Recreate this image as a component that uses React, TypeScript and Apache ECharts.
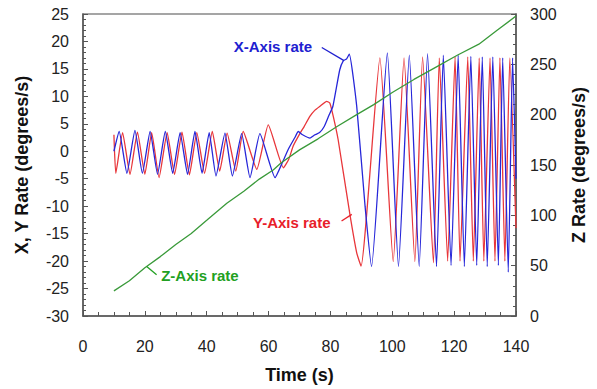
import React, { useEffect, useRef } from "react";
import * as echarts from "echarts";

// Time axis (s)
const timeMin = 0;
const timeMax = 140;
const timeStep = 20;
// Left axis (degrees/s)
const xyMin = -30;
const xyMax = 25;
const xyStep = 5;
// Right axis (degrees/s)
const zMin = 0;
const zMax = 300;
const zStep = 50;

// X-axis rate: [time, value] read at peaks, troughs and bends
const xAxisRate: [number, number][] = [
  [10, 0], [11.7, 3.6], [14.2, -4], [16.8, 3.8], [19.2, -4], [21.7, 3.6], [24.1, -4.2],
  [26.6, 3.6], [29, -4], [31.4, 3.4], [33.8, -4.2], [36.2, 3.6], [38.5, -4], [40.8, 3.4],
  [43, -4.5], [45.9, 3.3], [48.3, -4.5], [51.3, 3.2], [54, -4.8], [57.2, 3.2], [62.1, -4.8],
  [64.5, -2], [66.5, 0.5], [68.5, 2.5], [69.6, 3.6], [71, 3], [73.4, 2.4], [75, 3],
  [76.5, 3.4], [78, 4.5], [79.5, 6.5], [80.8, 8.2], [83, 14.8], [84.2, 16.5], [85.2, 16.8],
  [86.1, 17.7], [88.5, 8.2], [91.2, -10], [93.3, -21], [98.4, 17.9], [102, -21],
  [105.5, 17.5], [108.7, -21], [111.4, 17.8], [114.3, -21], [116.5, 17.5], [119, -20.8],
  [121.3, 17.5], [123.3, -21], [125.4, 17.3], [127.3, -20.8], [129.1, 17.2], [130.7, -21],
  [132.5, 17.2], [134.3, -20.8], [135.7, 17], [137.5, -22], [138.9, 17], [140, -5],
];

// Y-axis rate
const yAxisRate: [number, number][] = [
  [10, 3], [10.6, -4], [12.8, 3.4], [15.2, -4.2], [17.6, 3.5], [20, -4.2], [22.2, 3.4],
  [24.6, -4.8], [27.2, 3.4], [29.6, -4.2], [32, 3.5], [34.4, -4.3], [36.8, 3.4], [39.3, -4],
  [41.8, 3.6], [44.2, -3.6], [46.6, 3.3], [49.4, -3.6], [51.8, 3.6], [56.2, -3.3],
  [59.9, 4.8], [64.8, -3], [66.5, -1.5], [68, 1], [70.2, 3.3], [71.5, 4.5], [73.4, 6.4],
  [75, 7.5], [76.6, 8.2], [78.8, 9.1], [79.8, 8.8], [80.9, 6.4], [82.5, 2.1], [86.3, -11.5],
  [88.5, -18.5], [89.9, -20.9], [96, 17], [100.3, -20.1], [103.8, 17], [107.3, -20.1],
  [109.8, 17.2], [113.3, -20.3], [115.2, 17], [117.9, -20], [120.3, 17.2], [121.9, -20],
  [124.4, 17.2], [126.2, -20], [128.1, 17], [129.6, -20], [131.6, 17], [133.2, -20],
  [134.8, 17], [136.4, -20], [138, 17], [140, -14],
];

// Z-axis rate (right axis)
const zAxisRate: [number, number][] = [
  [10, 25], [15, 35], [20, 48], [25, 59], [30, 71], [35, 82], [40, 95], [46.5, 112],
  [52, 124], [57, 136], [61.5, 145], [64, 152], [70, 165], [76, 176], [82, 188],
  [88.5, 200], [94, 210], [100, 222], [107, 235], [114, 247], [121, 259], [128, 270],
  [134, 284], [140, 298],
];

// Annotations in data units of the left axis: label centre, pointer start, pointer end
const annotationLabels = ["X-Axis rate", "Y-Axis rate", "Z-Axis rate"];
const annotationCentres: [number, number][] = [[61.4, 19.1], [67.5, -13], [37.8, -22.6]];
const annotationPointerFrom: [number, number][] = [[77.2, 18.9], [83.6, -12.7], [23.8, -22.5]];
const annotationPointerTo: [number, number][] = [[84.4, 16.5], [86.9, -11.5], [20.6, -21]];

const BLUE = "#2626d9";
const RED = "#e8363a";
const GREEN = "#3a9a3a";
const annotationColours = ["#2020d0", "#e8202a", "#22a022"];
const FONT = "'Liberation Sans', Arial, sans-serif";
const AXIS_COLOR = "#555";

export default function App() {
  const ref = useRef<HTMLDivElement>(null);

  useEffect(() => {
    if (!ref.current) return;
    const chart = echarts.init(ref.current, undefined, { renderer: "svg" });

    const tickStyle = { color: AXIS_COLOR, width: 1 };
    const labelStyle = { fontSize: 16, color: "#222", fontFamily: FONT };
    const nameStyle = { fontSize: 18, fontWeight: "bold" as const, color: "#111", fontFamily: FONT };

    chart.setOption({
      animation: false,
      backgroundColor: "#fff",
      grid: {
        left: 83,
        right: 81,
        top: 14,
        bottom: 72,
        show: true,
        borderColor: "#888",
        borderWidth: 1.5,
      },
      xAxis: {
        type: "value",
        min: timeMin,
        max: timeMax,
        interval: timeStep,
        axisLine: { show: true, onZero: false, lineStyle: { color: AXIS_COLOR, width: 1.5 } },
        axisTick: { show: true, inside: true, length: 5, lineStyle: tickStyle },
        minorTick: { show: true, splitNumber: 4, length: 4, lineStyle: tickStyle },
        axisLabel: { ...labelStyle, margin: 22 },
        splitLine: { show: false },
        name: "Time (s)",
        nameLocation: "middle",
        nameGap: 50,
        nameTextStyle: nameStyle,
      },
      yAxis: [
        {
          type: "value",
          min: xyMin,
          max: xyMax,
          interval: xyStep,
          position: "left",
          axisLine: { show: true, onZero: false, lineStyle: { color: AXIS_COLOR, width: 1.5 } },
          axisTick: { show: true, inside: true, length: 5, lineStyle: tickStyle },
          minorTick: { show: true, splitNumber: 5, length: 3, lineStyle: tickStyle },
          axisLabel: { ...labelStyle, margin: 14 },
          splitLine: { show: false },
          name: "X, Y Rate (degrees/s)",
          nameLocation: "middle",
          nameRotate: 90,
          nameGap: 52,
          nameTextStyle: nameStyle,
        },
        {
          type: "value",
          min: zMin,
          max: zMax,
          interval: zStep,
          position: "right",
          axisLine: { show: true, onZero: false, lineStyle: { color: AXIS_COLOR, width: 1.5 } },
          axisTick: { show: true, inside: true, length: 5, lineStyle: tickStyle },
          minorTick: { show: true, splitNumber: 5, length: 3, lineStyle: tickStyle },
          axisLabel: { ...labelStyle, margin: 14 },
          splitLine: { show: false },
          name: "Z Rate (degrees/s)",
          nameLocation: "middle",
          nameRotate: 90,
          nameGap: 54,
          nameTextStyle: nameStyle,
        },
      ],
      series: [
        {
          name: "Y-Axis rate",
          type: "line",
          data: yAxisRate,
          yAxisIndex: 0,
          showSymbol: false,
          lineStyle: { color: RED, width: 1.3 },
          smooth: 0.15,
        },
        {
          name: "X-Axis rate",
          type: "line",
          data: xAxisRate,
          yAxisIndex: 0,
          showSymbol: false,
          lineStyle: { color: BLUE, width: 1.3 },
          smooth: 0.15,
        },
        {
          name: "Z-Axis rate",
          type: "line",
          data: zAxisRate,
          yAxisIndex: 1,
          showSymbol: false,
          lineStyle: { color: GREEN, width: 1.3 },
        },
      ],
    });

    const toPx = (p: [number, number]) =>
      chart.convertToPixel({ xAxisIndex: 0, yAxisIndex: 0 }, p) as number[];

    const graphic: any[] = [];
    annotationLabels.forEach((label, i) => {
      const c = toPx(annotationCentres[i]);
      const a = toPx(annotationPointerFrom[i]);
      const b = toPx(annotationPointerTo[i]);
      graphic.push({
        type: "text",
        x: c[0],
        y: c[1],
        style: {
          text: label,
          fill: annotationColours[i],
          font: `bold 15px ${FONT}`,
          textAlign: "center",
          textVerticalAlign: "middle",
        },
        z: 100,
      });
      graphic.push({
        type: "line",
        shape: { x1: a[0], y1: a[1], x2: b[0], y2: b[1] },
        style: { stroke: annotationColours[i], lineWidth: 1.3 },
        z: 100,
      });
    });
    chart.setOption({ graphic });

    return () => chart.dispose();
  }, []);

  return (
    <div
      ref={ref}
      style={{ position: "fixed", left: 0, top: 0, width: 597, height: 389, background: "#fff" }}
    />
  );
}
